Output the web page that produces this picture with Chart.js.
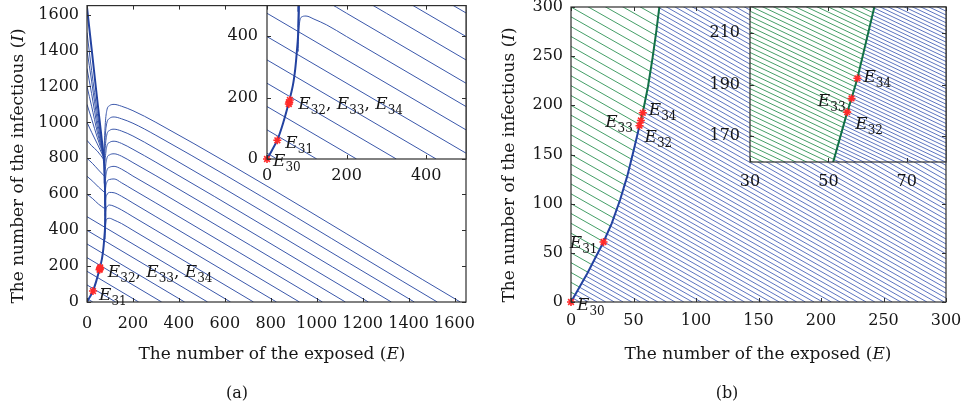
<!DOCTYPE html>
<html><head><meta charset="utf-8">
<script src="https://cdn.jsdelivr.net/npm/chart.js@4.4.1/dist/chart.umd.min.js"></script>
<style>
html,body{margin:0;padding:0;background:#fff;overflow:hidden}
#wrap{position:relative;width:962px;height:411px;background:#fff}
#wrap canvas{position:absolute;top:0}
</style></head><body><div id="wrap">
<canvas id="cA" width="480" height="411" style="left:0px"></canvas>
<canvas id="cAi" width="280" height="200" style="left:200px"></canvas>
<canvas id="cB" width="482" height="411" style="left:480px"></canvas>
<canvas id="cBi" width="272" height="200" style="left:690px"></canvas>
</div>
<script>
// ================= DATA =================
// equilibria E30..E34 (E, I)
const eqE = [0, 26, 54.8, 55.9, 57.4];
const eqI = [0, 61, 179.3, 184.6, 192.4];

// ---- panel (a) ----
const xTicksA = [0, 200, 400, 600, 800, 1000, 1200, 1400, 1600];
const yTicksA = [0, 200, 400, 600, 800, 1000, 1200, 1400, 1600];
const xTicksAin = [0, 200, 400];
const yTicksAin = [0, 200, 400];
const slopeA = 0.76;                                  // dI/dE of the straight trajectories
const straightEndA = [25, 125, 225, 325, 425, 525, 625]; // E where straight trajectories meet I = 0
const humpCurvesA = [
  [[1625,0],[300,1000],[200,1065],[150,1090],[118,1100],[98,1093],[86,1065],[80,1000],[76,900],[73,815]],
  [[1525,0],[300,928],[200,995],[150,1020],[118,1030],[98,1022],[86,995],[80,935],[76,840],[74,785]],
  [[1425,0],[300,853],[200,924],[150,952],[118,962],[98,955],[86,930],[80,870],[76,780],[75,720]],
  [[1325,0],[300,778],[200,850],[150,883],[118,895],[98,888],[86,865],[80,805],[76,720],[75,660]],
  [[1225,0],[300,703],[200,776],[150,812],[118,825],[98,819],[86,797],[80,740],[77,660],[76,600]],
  [[1125,0],[300,627],[200,701],[150,740],[118,755],[98,750],[86,730],[80,675],[77,600],[76.5,540]],
  [[1025,0],[300,551],[200,626],[150,664],[118,685],[98,682],[86,665],[80,615],[78,545],[77.5,480]],
  [[925,0],[300,475],[200,551],[150,589],[118,608],[98,610],[86,595],[80,550],[78.5,480],[78,430]],
  [[825,0],[300,399],[200,475],[150,513],[118,533],[98,540],[86,528],[80,490],[78.5,430],[78,390]],
  [[725,0],[300,323],[200,399],[150,437],[118,456],[98,466],[86,462],[81,435],[79,390],[78.5,350]]
];
const fanCurvesA = [
  [[0,1500],[20,1290],[45,1050],[72,820]],
  [[0,1400],[20,1230],[45,1010],[72.5,815]],
  [[0,1300],[20,1160],[45,975],[73,810]],
  [[0,1200],[20,1090],[45,945],[73.5,808]],
  [[0,1100],[20,1020],[45,915],[74,805]],
  [[0,1000],[20,945],[45,880],[74.5,800]],
  [[0,900],[20,870],[45,840],[75,790]],
  [[0,800],[25,770],[50,735],[76,700]],
  [[0,700],[25,672],[50,640],[76.5,610]],
  [[0,600],[25,575],[50,545],[77,520]]
];
const manifoldAE = [0, 12, 26, 40, 55, 65, 71, 75, 78, 80, 79.5, 78, 75.5, 73, 62, 45, 20, 0];
const manifoldAI = [0, 27, 62, 115, 185, 240, 294, 350, 400, 480, 560, 650, 740, 800, 930, 1120, 1410, 1640];

// ---- panel (b) ----
const xTicksB = [0, 50, 100, 150, 200, 250, 300];
const yTicksB = [0, 50, 100, 150, 200, 250, 300];
const xTicksBin = [30, 50, 70];
const yTicksBin = [170, 190, 210];
const slopeB = 0.72;
const greenStartB = [10,20,30,40,50,60,70,80,90,100,110,120,130,140,150,160,170,180,190,200,210,220,230,240,250,260,270,280,290,300,310,320,330,340,350];
const blueStartB = [5,10,15,20,25,30,35,40,45,50,55,60,65,70,75,80,85,90,95,100,105,110,115,120,125,130,135,140,145,150,155,160,165,170,175,180,185,190,195,200,205,210,215,220,225,230,235,240,245,250,255,260,265,270,275,280,285,290,295,300,305,310,315,320,325,330,335,340,345,350,355,360,365,370,375,380,385,390,395,400,405,410,415,420,425,430,435,440,445,450,455,460,465,470,475,480,485,490,495,500,505,510,515];
const greenStartBin = [180,182,184,186,188,190,192,194,196,198,200,202,204,206,208,210,212,214,216,218,220,222,224,226,228,230,232,234,236,238,240,242,244,246,248,250,252,254,256,258,260,262,264,266];
const blueStartBin = [195,196.5,198,199.5,201,202.5,204,205.5,207,208.5,210,211.5,213,214.5,216,217.5,219,220.5,222,223.5,225,226.5,228,229.5,231,232.5,234,235.5,237,238.5,240,241.5,243,244.5,246,247.5,249,250.5,252,253.5,255,256.5,258,259.5,261,262.5,264,265.5,267,268.5,270,271.5,273,274.5,276,277.5,279];
const manifoldBE = [0, 13, 26, 32.6, 39.3, 45, 50.3, 54.8, 55.9, 57.4, 61.6, 65.1, 68, 70.5, 71.6];
const manifoldBI = [0, 29, 61, 80, 104, 128, 155, 179.3, 184.6, 192.4, 219.2, 247, 273, 298, 310];
const splitB = 7; // index of E32: blue below, green above

// ================= STYLE =================
const FONT = '"DejaVu Serif","Liberation Serif",serif';
const C = {blueThin:'#3a57aa', blueThick:'#2342a0', blueHatch:'#4a64b9', greenHatch:'#2f9356', greenThick:'#127046', red:'#ff2a2a', frame:'#2e2e2e', text:'#161616'};

// ================= HELPERS =================
function drawSegs(ctx, segs, x, y, align, size) {
  const sub = Math.round(size * 0.68);
  const fontOf = s => s === 'i' ? `italic ${size}px ${FONT}` : s === 'sub' ? `${sub}px ${FONT}` : `${size}px ${FONT}`;
  const ws = []; let w = 0;
  for (const g of segs) { ctx.font = fontOf(g.s); const m = ctx.measureText(g.t).width; ws.push(m); w += m; }
  let cx = align === 'right' ? x - w : align === 'center' ? x - w / 2 : x;
  ctx.textBaseline = 'alphabetic'; ctx.textAlign = 'left'; ctx.fillStyle = C.text;
  segs.forEach((g, k) => { ctx.font = fontOf(g.s); ctx.fillText(g.t, cx, g.s === 'sub' ? y + Math.round(size * 0.27) : y); cx += ws[k]; });
}
function eqSegs(subs) {
  const out = [];
  subs.forEach((s, k) => { if (k) out.push({t: ', ', s: 'n'}); out.push({t: 'E', s: 'i'}, {t: s, s: 'sub'}); });
  return out;
}

function markerDs(idx) {
  return {data: idx.map(i => ({x: eqE[i], y: eqI[i]})), showLine: false, pointStyle: 'star', pointRadius: 4,
    borderColor: C.red, backgroundColor: C.red, borderWidth: 1.6, clip: false};
}
function hatchDs(starts, slope, color, side) {
  const d = [];
  starts.forEach(c => { d.push({x: 0, y: c}, {x: c / slope, y: 0}, {x: c / slope, y: null}); });
  return {data: d, showLine: true, borderColor: color, borderWidth: 0.9, spanGaps: false, clipSide: side};
}
function aDatasets(markIdx) {
  const ds = [markerDs(markIdx)];
  ds.push({data: manifoldAE.map((e, i) => ({x: e, y: manifoldAI[i]})), showLine: true, borderColor: C.blueThick, borderWidth: 2, tension: 0.3});
  humpCurvesA.concat(fanCurvesA).forEach(c => ds.push({data: c.map(p => ({x: p[0], y: p[1]})), showLine: true,
    borderColor: C.blueThin, borderWidth: 1, cubicInterpolationMode: 'monotone'}));
  const st = [];
  straightEndA.forEach(eb => { st.push({x: 0, y: slopeA * eb}, {x: eb, y: 0}, {x: eb, y: null}); });
  ds.push({data: st, showLine: true, borderColor: C.blueThin, borderWidth: 1, spanGaps: false});
  return ds;
}
function bDatasets(inset) {
  const ds = [markerDs(inset ? [2, 3, 4] : [0, 1, 2, 3, 4])];
  const mp = manifoldBE.map((e, i) => ({x: e, y: manifoldBI[i]}));
  if (inset) {
    ds.push({data: mp, showLine: true, borderColor: C.greenThick, borderWidth: 2});
  } else {
    ds.push({data: mp.slice(0, splitB + 1), showLine: true, borderColor: C.blueThick, borderWidth: 2});
    ds.push({data: mp.slice(splitB), showLine: true, borderColor: C.greenThick, borderWidth: 2});
  }
  ds.push(hatchDs(inset ? greenStartBin : greenStartB, slopeB, C.greenHatch, 'left'));
  ds.push(hatchDs(inset ? blueStartBin : blueStartB, slopeB, C.blueHatch, 'right'));
  return ds;
}

function decor(cfg) {
  return {
    id: 'decor',
    beforeDraw(chart) {
      if (!cfg.whiteBg) return;
      const a = chart.chartArea, ctx = chart.ctx;
      ctx.save(); ctx.fillStyle = '#fff'; ctx.fillRect(a.left, a.top, a.right - a.left, a.bottom - a.top); ctx.restore();
    },
    beforeDatasetDraw(chart, args) {
      const ds = chart.data.datasets[args.index];
      if (!ds.clipSide) return;
      const {ctx, scales: {x, y}} = chart;
      const p = manifoldBE.map((e, i) => [x.getPixelForValue(e), y.getPixelForValue(manifoldBI[i])]);
      const F = 5000, n = p.length - 1;
      ctx.save(); ctx.beginPath();
      if (ds.clipSide === 'left') {
        ctx.moveTo(-F, F); ctx.lineTo(p[0][0], F);
        p.forEach(q => ctx.lineTo(q[0], q[1]));
        ctx.lineTo(p[n][0], -F); ctx.lineTo(-F, -F);
      } else {
        ctx.moveTo(p[0][0], F);
        p.forEach(q => ctx.lineTo(q[0], q[1]));
        ctx.lineTo(p[n][0], -F); ctx.lineTo(F, -F); ctx.lineTo(F, F);
      }
      ctx.closePath(); ctx.clip();
    },
    afterDatasetDraw(chart, args) {
      const ds = chart.data.datasets[args.index];
      if (ds.clipSide) chart.ctx.restore();
    },
    afterDatasetsDraw(chart) {
      const {ctx, chartArea: a, scales: {x, y}} = chart;
      ctx.save(); ctx.strokeStyle = C.frame; ctx.lineWidth = 1.2;
      ctx.strokeRect(a.left, a.top, a.right - a.left, a.bottom - a.top);
      ctx.lineWidth = 1; ctx.beginPath();
      const L = 4;
      cfg.xt.forEach(v => { const px = Math.round(x.getPixelForValue(v)) + 0.5; ctx.moveTo(px, a.bottom); ctx.lineTo(px, a.bottom - L); ctx.moveTo(px, a.top); ctx.lineTo(px, a.top + L); });
      cfg.yt.forEach(v => { const py = Math.round(y.getPixelForValue(v)) + 0.5; ctx.moveTo(a.left, py); ctx.lineTo(a.left + L, py); ctx.moveTo(a.right, py); ctx.lineTo(a.right - L, py); });
      ctx.stroke(); ctx.restore();
    },
    afterDraw(chart) {
      const {ctx, scales: {x, y}} = chart;
      ctx.save();
      (cfg.labels || []).forEach(Lb => {
        const px = x.getPixelForValue(eqE[Lb.eq]) + Lb.dx, py = y.getPixelForValue(eqI[Lb.eq]) + Lb.dy;
        drawSegs(ctx, eqSegs(Lb.subs), px, py, Lb.align || 'left', 17);
      });
      if (cfg.titles) {
        const T = cfg.titles;
        drawSegs(ctx, [{t: 'The number of the exposed (', s: 'n'}, {t: 'E', s: 'i'}, {t: ')', s: 'n'}], T.xt[0], T.xt[1], 'center', 17);
        ctx.save(); ctx.translate(T.yt[0], T.yt[1]); ctx.rotate(-Math.PI / 2);
        drawSegs(ctx, [{t: 'The number of the infectious (', s: 'n'}, {t: 'I', s: 'i'}, {t: ')', s: 'n'}], 0, 0, 'center', 17);
        ctx.restore();
        drawSegs(ctx, [{t: T.cap, s: 'n'}], T.capPos[0], T.capPos[1], 'center', 16);
      }
      ctx.restore();
    }
  };
}

function makeChart(id, cfg) {
  const tickFont = {family: FONT, size: 16};
  return new Chart(document.getElementById(id), {
    type: 'scatter',
    data: {datasets: cfg.datasets},
    options: {
      responsive: false, animation: false, devicePixelRatio: 1, events: [],
      layout: {padding: cfg.pad},
      plugins: {legend: {display: false}, tooltip: {enabled: false}},
      elements: {point: {radius: 0, hoverRadius: 0}},
      scales: {
        x: {type: 'linear', position: 'bottom', min: cfg.xr[0], max: cfg.xr[1],
          afterFit: s => { s.height = cfg.xh; s.paddingLeft = 0; s.paddingRight = 0; },
          afterBuildTicks: s => { s.ticks = cfg.xt.map(v => ({value: v})); },
          ticks: {font: tickFont, color: C.text, padding: cfg.xpad, maxRotation: 0, minRotation: 0, autoSkip: false, callback: v => String(v)},
          grid: {display: false, drawTicks: false}, border: {display: false}},
        y: {type: 'linear', position: 'left', min: cfg.yr[0], max: cfg.yr[1],
          afterFit: s => { s.width = cfg.yw; s.paddingTop = 0; s.paddingBottom = 0; },
          afterBuildTicks: s => { s.ticks = cfg.yt.map(v => ({value: v})); },
          ticks: {font: tickFont, color: C.text, padding: cfg.ypad, autoSkip: false, callback: v => String(v)},
          grid: {display: false, drawTicks: false}, border: {display: false}}
      }
    },
    plugins: [decor(cfg)]
  });
}

// ---- panel (a) main ----
makeChart('cA', {
  datasets: aDatasets([1, 2, 3, 4]),
  pad: {left: 0, top: 5, right: 14, bottom: 0}, yw: 87, xh: 109,
  xr: [0, 1650], yr: [0, 1650], xt: xTicksA, yt: yTicksA, xpad: 12, ypad: 8,
  labels: [{eq: 1, subs: ['31'], dx: 6, dy: 9}, {eq: 3, subs: ['32', '33', '34'], dx: 8, dy: 8}],
  titles: {xt: [272, 359], yt: [23, 166], cap: '(a)', capPos: [237, 398]}
});
// ---- panel (a) inset ----
makeChart('cAi', {
  datasets: aDatasets([0, 1, 2, 3, 4]), whiteBg: true,
  pad: {left: 0, top: 5, right: 14, bottom: 0}, yw: 67, xh: 41,
  xr: [0, 500], yr: [0, 500], xt: xTicksAin, yt: yTicksAin, xpad: 7, ypad: 9,
  labels: [{eq: 0, subs: ['30'], dx: 6, dy: 7}, {eq: 1, subs: ['31'], dx: 8, dy: 8}, {eq: 3, subs: ['32', '33', '34'], dx: 9, dy: 7}]
});
// ---- panel (b) main ----
makeChart('cB', {
  datasets: bDatasets(false),
  pad: {left: 0, top: 7, right: 16, bottom: 0}, yw: 91, xh: 109,
  xr: [0, 300], yr: [0, 300], xt: xTicksB, yt: yTicksB, xpad: 9, ypad: 8,
  labels: [{eq: 0, subs: ['30'], dx: 6, dy: 8}, {eq: 1, subs: ['31'], dx: -6, dy: 6, align: 'right'},
           {eq: 3, subs: ['33'], dx: -8, dy: 6.5, align: 'right'}, {eq: 4, subs: ['34'], dx: 6, dy: 2},
           {eq: 2, subs: ['32'], dx: 5, dy: 16}],
  titles: {xt: [278, 359], yt: [34, 165], cap: '(b)', capPos: [247, 398]}
});
// ---- panel (b) inset ----
makeChart('cBi', {
  datasets: bDatasets(true), whiteBg: true,
  pad: {left: 0, top: 7, right: 16, bottom: 0}, yw: 60, xh: 38,
  xr: [30, 80], yr: [160, 220], xt: xTicksBin, yt: yTicksBin, xpad: 10, ypad: 10,
  labels: [{eq: 4, subs: ['34'], dx: 6, dy: 4}, {eq: 3, subs: ['33'], dx: -6, dy: 7.5, align: 'right'},
           {eq: 2, subs: ['32'], dx: 8, dy: 17}]
});
</script></body></html>
